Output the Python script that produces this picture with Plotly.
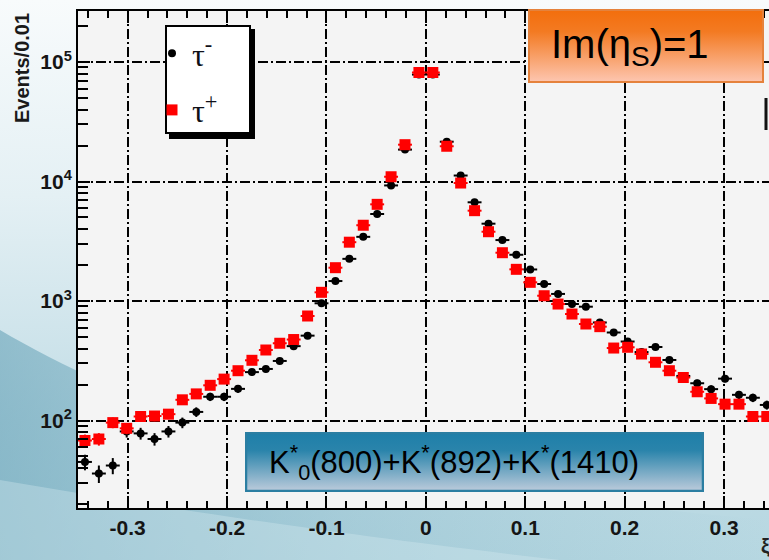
import base64
import plotly.graph_objects as go

# ---------------- data ----------------
bin_centers = [-0.343, -0.329, -0.315, -0.301, -0.287, -0.273, -0.259, -0.245, -0.231, -0.217,
               -0.203, -0.189, -0.175, -0.161, -0.147, -0.133, -0.119, -0.105, -0.091, -0.077,
               -0.063, -0.049, -0.035, -0.021, -0.007, 0.007, 0.021, 0.035, 0.049, 0.063,
               0.077, 0.091, 0.105, 0.119, 0.133, 0.147, 0.161, 0.175, 0.189, 0.203,
               0.217, 0.231, 0.245, 0.259, 0.273, 0.287, 0.301, 0.315, 0.329, 0.343]
bin_half_width = 0.007

tau_minus = [45, 36, 42, 81, 78, 70, 81, 96, 118, 158,
             158, 184, 254, 270, 315, 419, 513, 957, 1469, 2253,
             3443, 5345, 9270, 18490, 78500, 78500, 21530, 11220, 6700, 4436,
             3236, 2437, 1836, 1387, 1146, 944, 896, 661, 545, 458,
             374, 412, 321, 236, 205, 183, 224, 164, 155, 135]

tau_plus = [68, 70, 96, 86, 108, 109, 113, 149, 167, 197,
            222, 261, 319, 389, 443, 476, 749, 1182, 1900, 3105,
            4305, 6440, 10960, 20330, 81700, 81700, 19720, 9710, 5700, 3800,
            2536, 1841, 1433, 1107, 943, 778, 642, 610, 404, 410,
            360, 307, 261, 229, 174, 153, 137, 137, 108, 108]

x_tickvals = [-0.3, -0.2, -0.1, 0, 0.1, 0.2, 0.3]
x_ticktext = ["-0.3", "-0.2", "-0.1", "0", "0.1", "0.2", "0.3"]
y_tickvals = [100, 1000, 10000, 100000]
y_ticktext = ["10<sup>2</sup>", "10<sup>3</sup>", "10<sup>4</sup>", "10<sup>5</sup>"]
y_minor = [m * 10 ** e for e in range(1, 6) for m in range(2, 10)]

# ---------------- geometry helpers ----------------
W, H = 769, 560
L, R, T, B = 78, 769, 11, 508


def px(x):
    return (x - L) / (R - L)


def py(y):
    return (B - y) / (B - T)


def svg_uri(svg):
    return "data:image/svg+xml;base64," + base64.b64encode(svg.encode()).decode()


def img(svg, x0, y0, x1, y1, layer):
    return dict(source=svg_uri(svg), xref="paper", yref="paper",
                x=px(x0), y=py(y0), sizex=(x1 - x0) / (R - L), sizey=(y1 - y0) / (B - T),
                xanchor="left", yanchor="top", sizing="stretch", layer=layer)


bg_svg = f"""<svg xmlns='http://www.w3.org/2000/svg' width='{W}' height='{H}' viewBox='0 0 {W} {H}' preserveAspectRatio='none'>
<defs>
<linearGradient id='g' x1='0' y1='0' x2='0' y2='1'>
<stop offset='0' stop-color='#f8fbfc'/>
<stop offset='0.35' stop-color='#e4f0f4'/>
<stop offset='0.75' stop-color='#c2dde6'/>
<stop offset='1' stop-color='#b6d7e1'/>
</linearGradient>
<linearGradient id='h' x1='0' y1='0' x2='1' y2='0'>
<stop offset='0' stop-color='#5e9db3' stop-opacity='0.55'/>
<stop offset='0.45' stop-color='#6aa6bb' stop-opacity='0.25'/>
<stop offset='1' stop-color='#7fb4c6' stop-opacity='0.0'/>
</linearGradient>
</defs>
<rect width='{W}' height='{H}' fill='url(#g)'/>
<path d='M0,330 C120,400 300,480 769,520 L769,560 L0,560 Z' fill='url(#h)'/>
<path d='M0,480 C150,505 300,530 560,560 L0,560 Z' fill='#d6eaf0' fill-opacity='0.35'/>
<rect x='{L}' y='{T}' width='{R - L}' height='{B - T}' fill='#f4f4f4'/>
</svg>"""

legend_svg = """<svg xmlns='http://www.w3.org/2000/svg' width='90' height='114' viewBox='0 0 90 114' preserveAspectRatio='none'>
<rect x='4' y='4' width='86' height='110' fill='#000'/>
<rect x='1' y='1' width='84' height='107' fill='#ffffff' stroke='#000' stroke-width='2'/>
</svg>"""

orange_svg = """<svg xmlns='http://www.w3.org/2000/svg' width='236' height='74' viewBox='0 0 236 74' preserveAspectRatio='none'>
<defs><linearGradient id='o' x1='0' y1='0' x2='0' y2='1'>
<stop offset='0' stop-color='#f36e0c'/>
<stop offset='0.3' stop-color='#f37a22'/>
<stop offset='1' stop-color='#fdc6b0'/>
</linearGradient></defs>
<rect x='1' y='1' width='234' height='72' fill='url(#o)' stroke='#e5823c' stroke-width='2'/>
</svg>"""

blue_svg = """<svg xmlns='http://www.w3.org/2000/svg' width='459' height='60' viewBox='0 0 459 60' preserveAspectRatio='none'>
<defs><linearGradient id='b' x1='0' y1='0' x2='0' y2='1'>
<stop offset='0' stop-color='#1e7fa9'/>
<stop offset='0.3' stop-color='#2a84ab'/>
<stop offset='1' stop-color='#bccbdb'/>
</linearGradient></defs>
<rect x='1' y='1' width='457' height='58' fill='url(#b)' stroke='#2b7ea2' stroke-width='2.5'/>
</svg>"""

# ---------------- traces ----------------
fig = go.Figure()
fig.add_trace(go.Scatter(
    x=bin_centers, y=tau_minus, mode="markers", name="τ<sup>-</sup>", legendgroup="m",
    marker=dict(symbol="circle", size=8, color="black"),
    error_x=dict(type="constant", value=bin_half_width, color="black", thickness=2, width=0),
    error_y=dict(type="data", array=[v ** 0.5 for v in tau_minus], color="black", thickness=2, width=0),
))
fig.add_trace(go.Scatter(
    x=bin_centers, y=tau_plus, mode="markers", name="τ<sup>+</sup>", legendgroup="p",
    marker=dict(symbol="square", size=11, color="#ff0000"),
    error_x=dict(type="constant", value=bin_half_width, color="#ff0000", thickness=2, width=0),
    error_y=dict(type="data", array=[v ** 0.5 for v in tau_plus], color="#ff0000", thickness=2, width=0),
))

grid_dash = "10px,3px,2px,3px"
tickfont = dict(family="Liberation Sans", size=21, color="#151515", weight="bold")

fig.update_layout(
    width=W, height=H,
    margin=dict(l=L, r=W - R, t=T, b=H - B, pad=0),
    paper_bgcolor="#e6f0f3",
    plot_bgcolor="#f4f4f4",
    font=dict(family="Liberation Sans", color="black"),
    showlegend=True,
    legend=dict(x=px(152), y=py(26), xanchor="left", yanchor="top",
                bgcolor="rgba(0,0,0,0)", borderwidth=0,
                font=dict(family="Liberation Serif", size=32, color="#101018"),
                tracegroupgap=12, itemsizing="trace"),
    images=[
        img(bg_svg, 0, 0, W, H, "below"),
        img(legend_svg, 165, 25, 255, 139, "above"),
        img(orange_svg, 528, 9, 764, 83, "above"),
        img(blue_svg, 245, 432, 704, 492, "above"),
    ],
    xaxis=dict(
        range=[-0.35, (R - 425.5) / 995.0],
        showline=True, linecolor="black", linewidth=2, mirror="ticks",
        ticks="inside", ticklen=12, tickwidth=1.5, tickcolor="black",
        tickmode="array", tickvals=x_tickvals, ticktext=x_ticktext,
        tickfont=tickfont,
        showgrid=True, gridcolor="black", gridwidth=1.5, griddash=grid_dash,
        zeroline=False,
        minor=dict(ticks="inside", ticklen=7, tickwidth=1.5, tickcolor="black",
                   dtick=0.02, tick0=0, showgrid=False),
    ),
    yaxis=dict(
        type="log", range=[1.2678, 5.4268],
        showline=True, linecolor="black", linewidth=2, mirror=False,
        ticks="inside", ticklen=12, tickwidth=1.5, tickcolor="black",
        tickmode="array", tickvals=y_tickvals, ticktext=y_ticktext,
        tickfont=tickfont,
        showgrid=True, gridcolor="black", gridwidth=1.5, griddash=grid_dash,
        zeroline=False,
        minor=dict(ticks="inside", ticklen=10, tickwidth=1.5, tickcolor="black",
                   tickvals=y_minor, showgrid=False),
    ),
    annotations=[
        dict(text="Events/0.01", textangle=-90, xref="paper", yref="paper",
             x=px(22), y=py(11), xanchor="center", yanchor="top", showarrow=False,
             font=dict(family="Liberation Sans", size=20, color="#1a1a1a", weight="bold")),
        dict(text="Im(η<sub>S</sub>)=1", xref="paper", yref="paper",
             x=px(549), y=py(47), xanchor="left", yanchor="middle", showarrow=False,
             font=dict(family="Liberation Sans", size=40, color="black")),
        dict(text="K<sup>*</sup><sub>0</sub>(800)+K<sup>*</sup>(892)+K<sup>*</sup>(1410)",
             xref="paper", yref="paper",
             x=px(267), y=py(462), xanchor="left", yanchor="middle", showarrow=False,
             font=dict(family="Liberation Sans", size=31, color="black")),
        dict(text="ξ", xref="paper", yref="paper", x=px(759), y=py(546),
             xanchor="left", yanchor="middle", showarrow=False,
             font=dict(family="Liberation Sans", size=20, color="#222", weight="bold")),
    ],
    shapes=[
        dict(type="line", xref="paper", yref="paper", x0=px(766), x1=px(766),
             y0=py(98), y1=py(130), line=dict(color="#111", width=3), layer="above"),
    ],
)

fig.write_html("out.html")
